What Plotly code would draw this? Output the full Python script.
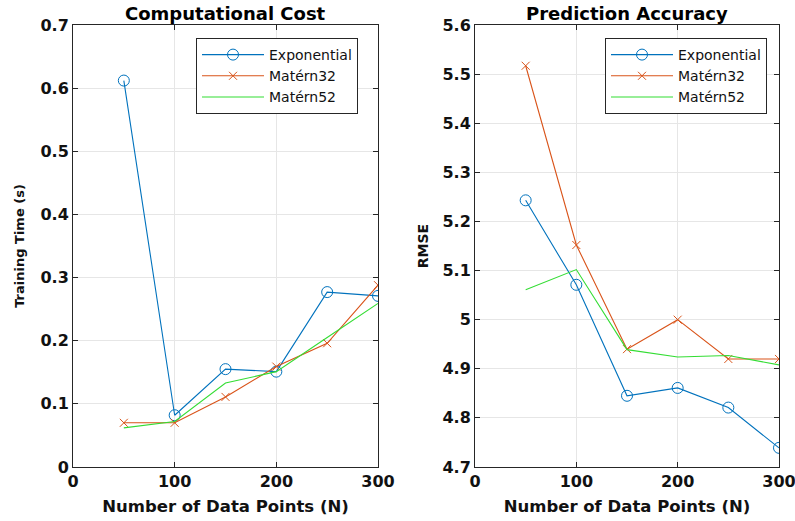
import plotly.graph_objects as go

n_points = [50, 100, 150, 200, 250, 300]

time_exponential = [0.612, 0.082, 0.155, 0.151, 0.277, 0.271]
time_matern32 = [0.070, 0.070, 0.111, 0.159, 0.196, 0.288]
time_matern52 = [0.062, 0.072, 0.133, 0.151, 0.205, 0.259]

rmse_exponential = [5.243, 5.071, 4.845, 4.861, 4.821, 4.739]
rmse_matern32 = [5.517, 5.152, 4.940, 5.000, 4.920, 4.920]
rmse_matern52 = [5.061, 5.102, 4.939, 4.924, 4.927, 4.908]

series_names = ["Exponential", "Matérn32", "Matérn52"]
colors = ["#0072BD", "#D95319", "#33DD33"]
symbols = ["circle-open", "x-thin-open", None]
marker_sizes = [11, 8, 0]

time_tick_vals = [0, 0.1, 0.2, 0.3, 0.4, 0.5, 0.6, 0.7]
time_tick_text = ["0", "0.1", "0.2", "0.3", "0.4", "0.5", "0.6", "0.7"]
rmse_tick_vals = [4.7, 4.8, 4.9, 5.0, 5.1, 5.2, 5.3, 5.4, 5.5, 5.6]
rmse_tick_text = ["4.7", "4.8", "4.9", "5", "5.1", "5.2", "5.3", "5.4", "5.5", "5.6"]
x_tick_vals = [0, 100, 200, 300]

W, H = 795, 521
fig = go.Figure()

def add_series(ys_list, xaxis, yaxis, legend):
    for name, ys, c, s, ms in zip(series_names, ys_list, colors, symbols, marker_sizes):
        mode = "lines+markers" if s else "lines"
        kw = {}
        if s:
            kw["marker"] = dict(symbol=s, size=ms, color=c, line=dict(width=1, color=c))
        fig.add_trace(go.Scatter(x=n_points, y=ys, mode=mode, name=name,
                                 line=dict(color=c, width=1.1),
                                 xaxis=xaxis, yaxis=yaxis, legend=legend, **kw))

add_series([time_exponential, time_matern32, time_matern52], "x", "y", "legend")
add_series([rmse_exponential, rmse_matern32, rmse_matern52], "x2", "y2", "legend2")

axis_col = "#262626"
FONT = "DejaVu Sans"
tickfont = dict(family=FONT, size=16, color="#111111", weight="bold")
common_x = dict(range=[0, 300], tickvals=x_tick_vals, showgrid=True, gridcolor="#e6e6e6",
                showline=True, linecolor=axis_col, linewidth=1, mirror="ticks",
                ticks="inside", ticklen=5, tickcolor=axis_col, zeroline=False,
                tickfont=tickfont, automargin=False, ticklabeloverflow="allow",
                title=dict(text="Number of Data Points (N)", standoff=10,
                           font=dict(family=FONT, size=16.5, color="#111111", weight="bold")))
common_y = dict(showgrid=True, gridcolor="#e6e6e6", showline=True, linecolor=axis_col,
                linewidth=1, mirror="ticks", ticks="inside", ticklen=5, tickcolor=axis_col,
                zeroline=False, tickfont=tickfont, automargin=False, ticklabeloverflow="allow")

ybot = 1 - 467 / H
ytop = 1 - 25 / H
legend_common = dict(yanchor="top", y=1 - 38 / H, xanchor="right",
                     bgcolor="white", bordercolor=axis_col, borderwidth=1,
                     font=dict(family=FONT, size=14, color="#111111"),
                     tracegroupgap=0, itemwidth=62)
fig.update_layout(
    width=W, height=H,
    margin=dict(l=0, r=0, t=0, b=0),
    paper_bgcolor="white", plot_bgcolor="white",
    xaxis=dict(domain=[73 / W, 378 / W], anchor="y", **common_x),
    yaxis=dict(domain=[ybot, ytop], anchor="x", range=[0, 0.7],
               tickvals=time_tick_vals, ticktext=time_tick_text,
               title=dict(text="Training Time (s)", standoff=12,
                          font=dict(family=FONT, size=13, color="#111111", weight="bold")),
               **common_y),
    xaxis2=dict(domain=[475 / W, 779 / W], anchor="y2", **common_x),
    yaxis2=dict(domain=[ybot, ytop], anchor="x2", range=[4.7, 5.6],
                tickvals=rmse_tick_vals, ticktext=rmse_tick_text,
                title=dict(text="RMSE", standoff=10,
                           font=dict(family=FONT, size=14, color="#111111", weight="bold")),
                **common_y),
    legend=dict(x=358 / W, **legend_common),
    legend2=dict(x=767 / W, **legend_common),
    annotations=[
        dict(text="Computational Cost", x=(73 + 378) / 2 / W, y=1 - 13 / H, xref="paper", yref="paper",
             xanchor="center", yanchor="middle", showarrow=False,
             font=dict(family=FONT, size=18, color="#000000", weight="bold")),
        dict(text="Prediction Accuracy", x=(475 + 779) / 2 / W, y=1 - 13 / H, xref="paper", yref="paper",
             xanchor="center", yanchor="middle", showarrow=False,
             font=dict(family=FONT, size=18, color="#000000", weight="bold")),
    ],
)

fig.write_html("out.html", config={"displayModeBar": False},
               post_script="document.body.style.margin='0';document.body.style.overflow='hidden';")
